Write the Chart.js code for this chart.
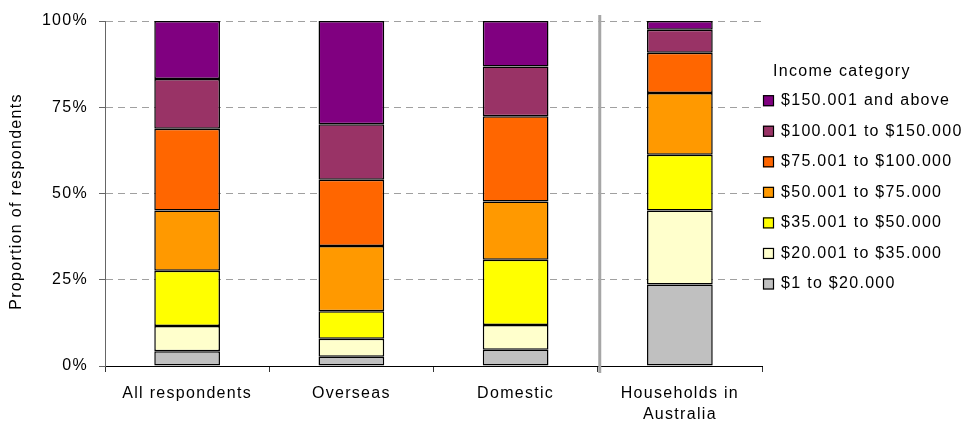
<!DOCTYPE html>
<html>
<head>
<meta charset="utf-8">
<script src="https://cdn.jsdelivr.net/npm/chart.js@4/dist/chart.umd.min.js"></script>
<style>
  html, body { margin: 0; padding: 0; background: #fff; }
  #wrap { width: 968px; height: 425px; position: relative; }
</style>
</head>
<body>
<div id="wrap"><canvas id="chart" width="968" height="425"></canvas></div>
<script>
// Respondent groups along the x axis
const categories = ['All respondents', 'Overseas', 'Domestic', ['Households in', 'Australia']];

// Income bands, lowest first (stacking order)
const bandLabels = [
  '$1 to $20.000',
  '$20.001 to $35.000',
  '$35.001 to $50.000',
  '$50.001 to $75.000',
  '$75.001 to $100.000',
  '$100.001 to $150.000',
  '$150.001 and above'
];
const bandColors = ['#C0C0C0', '#FFFFCC', '#FFFF00', '#FF9900', '#FF6600', '#993366', '#800080'];

// Share of respondents in each band (%), per group
const band1to20     = [4.3, 2.7, 4.7, 23.6];
const band20to35    = [7.3, 5.2, 7.2, 21.5];
const band35to50    = [16.0, 8.0, 18.9, 16.1];
const band50to75    = [17.5, 18.9, 16.9, 17.9];
const band75to100   = [23.7, 19.2, 24.7, 11.7];
const band100to150  = [14.4, 16.1, 14.4, 6.7];
const band150plus   = [16.8, 29.9, 13.2, 2.5];

const bandValues = [band1to20, band20to35, band35to50, band50to75, band75to100, band100to150, band150plus];

// Y axis ticks
const yTicks = [0, 25, 50, 75, 100];

const FONT = '"Liberation Sans", Arial, sans-serif';
const SPACING = '1.3px';

Chart.defaults.font.family = FONT;
Chart.defaults.font.size = 16;
Chart.defaults.color = '#000';

// Wider glyph spacing for all canvas text
const spacingPlugin = {
  id: 'spacing',
  beforeInit(chart) { chart.ctx.letterSpacing = SPACING; },
  beforeUpdate(chart) { chart.ctx.letterSpacing = SPACING; },
  beforeDraw(chart) { chart.ctx.letterSpacing = SPACING; }
};

// Vertical divider between survey groups and the national figure
const dividerPlugin = {
  id: 'divider',
  afterDatasetsDraw(chart) {
    const { ctx, scales: { x, y } } = chart;
    const px = x.getPixelForValue(2.5) + 2;
    ctx.save();
    ctx.strokeStyle = '#A6A6A6';
    ctx.lineWidth = 3;
    ctx.beginPath();
    ctx.moveTo(px, y.top - 6);
    ctx.lineTo(px, y.bottom + 7);
    ctx.stroke();
    ctx.restore();
  }
};

// Y axis title and legend drawn beside the plot
const sidePlugin = {
  id: 'side',
  afterDraw(chart) {
    const { ctx, chartArea } = chart;
    ctx.save();
    ctx.letterSpacing = SPACING;
    ctx.font = '16px ' + FONT;
    ctx.fillStyle = '#000';
    ctx.textBaseline = 'middle';

    // y axis title
    ctx.save();
    ctx.translate(17, (chartArea.top + chartArea.bottom) / 2 + 8);
    ctx.rotate(-Math.PI / 2);
    ctx.textAlign = 'center';
    ctx.fillText('Proportion of respondents', 0, 0);
    ctx.restore();

    // legend
    const boxX = chartArea.right + 1;
    const textX = boxX + 18;
    const titleY = 72;
    const firstY = 100.7;
    const step = 30.55;
    ctx.textAlign = 'left';
    ctx.fillText('Income category', boxX + 10, titleY);
    const ds = chart.data.datasets;
    for (let i = ds.length - 1, k = 0; i >= 0; i--, k++) {
      const cy = firstY + k * step;
      ctx.fillStyle = ds[i].backgroundColor;
      ctx.fillRect(boxX, cy - 5.5, 11, 11);
      ctx.strokeStyle = '#000';
      ctx.lineWidth = 1.2;
      ctx.strokeRect(boxX + 0.5, cy - 5, 10, 10);
      ctx.fillStyle = '#000';
      ctx.fillText(ds[i].label, textX, cy);
    }
    ctx.restore();
  }
};

new Chart(document.getElementById('chart'), {
  type: 'bar',
  data: {
    labels: categories,
    datasets: bandLabels.map((label, i) => ({
      label,
      data: bandValues[i],
      backgroundColor: bandColors[i],
      borderColor: '#000',
      borderWidth: 1.5,
      borderSkipped: false
    }))
  },
  options: {
    responsive: false,
    animation: false,
    events: [],
    layout: { padding: { top: 21, right: 206, left: 0, bottom: 0 } },
    datasets: { bar: { categoryPercentage: 1, barPercentage: 0.4 } },
    plugins: { legend: { display: false }, tooltip: { enabled: false }, title: { display: false } },
    scales: {
      x: {
        stacked: true,
        afterFit(scale) { scale.height = 59; },
        border: { color: '#000', width: 1 },
        grid: { display: true, drawOnChartArea: false, offset: true, tickLength: 6, color: '#333', tickColor: '#333' },
        ticks: { padding: 11, maxRotation: 0, autoSkip: false, font: { size: 16, lineHeight: 1.3 } }
      },
      y: {
        stacked: true,
        min: 0,
        max: 100,
        afterFit(scale) { scale.width = 105; },
        afterBuildTicks(scale) { scale.ticks = yTicks.map(v => ({ value: v })); },
        border: { color: '#666', width: 1, dash: [7, 5] },
        grid: {
          color: ctx => (ctx.tick && ctx.tick.value === 0) ? 'rgba(0,0,0,0)' : '#A0A0A0',
          tickBorderDash: [0, 0],
          tickColor: '#666',
          tickLength: 6
        },
        ticks: { padding: 11, callback: v => v + '%', font: { size: 16 } },
        title: { display: false }
      }
    }
  },
  plugins: [spacingPlugin, dividerPlugin, sidePlugin]
});
</script>
</body>
</html>
